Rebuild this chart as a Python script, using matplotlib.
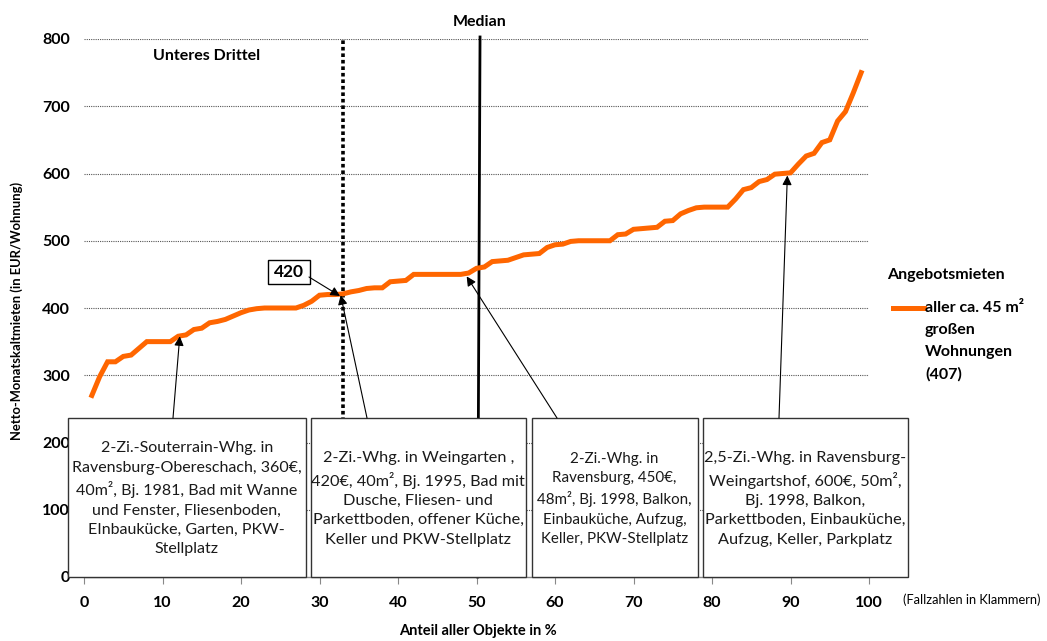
import matplotlib
matplotlib.use("Agg")
import matplotlib.pyplot as plt
from matplotlib.patches import Rectangle

plt.rcParams['font.family'] = ['Lato', 'DejaVu Sans']

# ---- data ----
share_pct = list(range(1, 100))
rent = [270, 298, 320, 320, 328, 330, 340, 350, 350, 350,
        350, 358, 360, 368, 370, 378, 380, 383, 388, 393,
        397, 399, 400, 400, 400, 400, 400, 404, 410, 419,
        420, 420, 421, 424, 426, 429, 430, 430, 439, 440,
        441, 450, 450, 450, 450, 450, 450, 450, 452, 459,
        461, 469, 470, 471, 475, 479, 480, 481, 490, 494,
        495, 499, 500, 500, 500, 500, 500, 509, 510, 517,
        518, 519, 520, 529, 530, 540, 545, 549, 550, 550,
        550, 550, 562, 576, 579, 588, 591, 599, 600, 601,
        614, 626, 630, 646, 650, 678, 692, 720, 750]
x_ticks = [0, 10, 20, 30, 40, 50, 60, 70, 80, 90, 100]
y_ticks = [0, 100, 200, 300, 400, 500, 600, 700, 800]
lower_third = 33
median = 50.3
highlight_value = 420
legend_lines = ['aller ca. 45 m²', 'großen', 'Wohnungen', '(407)']

box_texts = [
    "2-Zi.-Souterrain-Whg. in\nRavensburg-Obereschach, 360€,\n40m², Bj. 1981, Bad mit Wanne\nund Fenster, Fliesenboden,\nEInbaukücke, Garten, PKW-\nStellplatz",
    "2-Zi.-Whg. in Weingarten ,\n420€, 40m², Bj. 1995, Bad mit\nDusche, Fliesen- und\nParkettboden, offener Küche,\nKeller und PKW-Stellplatz",
    "2-Zi.-Whg. in\nRavensburg, 450€,\n48m², Bj. 1998, Balkon,\nEinbauküche, Aufzug,\nKeller, PKW-Stellplatz",
    "2,5-Zi.-Whg. in Ravensburg-\nWeingartshof, 600€, 50m²,\nBj. 1998, Balkon,\nParkettboden, Einbauküche,\nAufzug, Keller, Parkplatz",
]
# example points (share %, rent)
example_x = [12.2, 32.7, 48.75, 89.6]
example_y = [358, 419, 447, 597]

W, H = 1047, 641
fig = plt.figure(figsize=(W / 100, H / 100), dpi=100)
ax = fig.add_axes([84 / W, (H - 577) / H, (869 - 84) / W, (577 - 39) / H])

ax.set_xlim(0, 100)
ax.set_ylim(0, 800)

for y in y_ticks[1:]:
    ax.axhline(y, color='#555555', lw=0.8, ls=(0, (1, 1)), zorder=1)

orange = '#FF6600'
ax.plot(share_pct, rent, color=orange, lw=3.6, solid_joinstyle='miter', zorder=3)

# vertical reference lines
ax.plot([lower_third, lower_third], [0, 800], color='black', lw=2.6,
        ls=(0, (1, 0.8)), zorder=2)
ax.plot([median + 0.15, median - 0.15], [803, 0], color='black', lw=2.0,
        zorder=2, clip_on=False)

# spines / ticks
for s in ['left', 'top', 'right']:
    ax.spines[s].set_visible(False)
ax.spines['bottom'].set_color('#888888')
ax.spines['bottom'].set_linewidth(1.0)
ax.set_xticks(x_ticks)
ax.set_yticks(y_ticks)
ax.tick_params(axis='x', direction='out', length=5, color='#888888', pad=9,
               labelsize=11.5)
ax.tick_params(axis='y', length=0, pad=10, labelsize=11.5)
for lab in ax.get_xticklabels() + ax.get_yticklabels():
    lab.set_fontweight('bold')

fig.text(478 / W, (H - 631) / H, 'Anteil aller Objekte in %', fontsize=10.5,
         fontweight='bold', ha='center', va='center')
fig.text(17 / W, (H - 311) / H, 'Netto-Monatskaltmieten (in EUR/Wohnung)',
         rotation=90, fontsize=9.4, fontweight='bold', ha='center', va='center')

fig.text(207 / W, (H - 56) / H, 'Unteres Drittel', fontsize=11.5,
         fontweight='bold', ha='center', va='center')
fig.text(480 / W, (H - 22) / H, 'Median', fontsize=11.5, fontweight='bold',
         ha='center', va='center')
fig.text(972 / W, (H - 600) / H, '(Fallzahlen in Klammern)', fontsize=9.3,
         ha='center', va='center')

# legend (manual)
fig.text(946 / W, (H - 275) / H, 'Angebotsmieten', fontsize=11.5,
         fontweight='bold', ha='center', va='center')
fig.add_artist(plt.Line2D([893 / W, 924 / W], [(H - 308) / H] * 2,
                          color=orange, lw=3.6, transform=fig.transFigure))
for i, line in enumerate(legend_lines):
    fig.text(925 / W, (H - 308 - 22 * i) / H, line, fontsize=11.5,
             fontweight='bold', ha='left', va='center')

# boxes
def px2x(px):
    return (px - 84) / 7.85

def py2y(py):
    return (577 - py) / 0.6725

box_px = [(67.5, 306), (310.5, 526), (531.5, 697.5), (702.5, 907.5)]
box_fs = [11.5, 11.7, 10.9, 11.7]
box_top = py2y(418)
for (l, r), txt, fs in zip(box_px, box_texts, box_fs):
    x0, x1 = px2x(l), px2x(r)
    ax.add_patch(Rectangle((x0, 0), x1 - x0, box_top, facecolor='white',
                           edgecolor='#333333', lw=1.0, zorder=5, clip_on=False))
    ax.text((x0 + x1) / 2, box_top / 2 - 2, txt, ha='center', va='center',
            fontsize=fs, linespacing=1.48, zorder=6, color='#1a1a1a',
            clip_on=False)

# arrows from boxes to examples
tails_px = [173, 367, 557, 779]
arrow_kw = dict(arrowstyle='-|>', color='black', lw=0.8, mutation_scale=14,
                shrinkA=0, shrinkB=0)
for tx, ex, ey in zip(tails_px, example_x, example_y):
    ax.annotate('', xy=(ex, ey), xytext=(px2x(tx), box_top),
                arrowprops=arrow_kw, zorder=7, annotation_clip=False)

# "420" label
ax.annotate('', xy=(px2x(340), py2y(296)), xytext=(px2x(309), py2y(277)),
            arrowprops=arrow_kw, zorder=7, annotation_clip=False)
lx0, lx1 = px2x(267.5), px2x(309.5)
ly0, ly1 = py2y(283.5), py2y(260)
ax.add_patch(Rectangle((lx0, ly0), lx1 - lx0, ly1 - ly0, facecolor='white',
                       edgecolor='black', lw=1.0, zorder=6, clip_on=False))
ax.text((lx0 + lx1) / 2, (ly0 + ly1) / 2, str(highlight_value), ha='center',
        va='center', fontsize=12.5, fontweight='bold', zorder=7)

fig.savefig('out.png', dpi=100)
